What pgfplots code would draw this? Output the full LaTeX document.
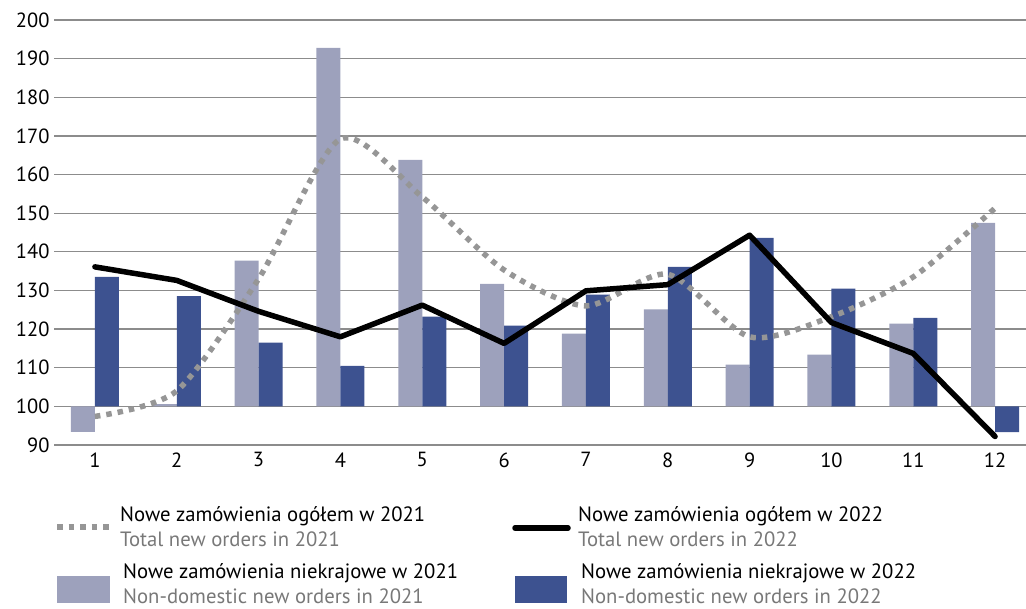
\documentclass[border=0pt]{standalone}
\usepackage{pgfplots}
\pgfplotsset{compat=1.18}
\usepackage{fontspec}
\setmainfont{PT Sans}
\definecolor{bar21}{RGB}{157,161,188}
\definecolor{bar22}{RGB}{61,82,144}
\definecolor{dot21}{RGB}{150,150,150}
\definecolor{gridc}{RGB}{140,140,140}
\definecolor{engl}{RGB}{120,120,120}
\begin{document}
\begin{tikzpicture}[x=1pt,y=1pt]
\useasboundingbox (0,0) rectangle (1026,609);
\begin{axis}[
    at={(54pt,164pt)}, anchor=south west,
    scale only axis, width=982pt, height=425pt,
    xmin=0.5, xmax=12.5,
    ymin=-10, ymax=100,
    y filter/.expression={y-100},
    xtick={1,2,...,12},
    ytick={-10,0,10,20,30,40,50,60,70,80,90,100},
    yticklabels={90,100,110,120,130,140,150,160,170,180,190,200},
    ymajorgrids,
    grid style={gridc, line width=1.3pt},
    axis line style={draw=none},
    major tick length=0pt,
    tick label style={font=\fontsize{20.5}{23}\selectfont},
    /pgf/number format/assume math mode=true,
    xticklabel style={yshift=-4pt},
    yticklabel style={xshift=-1pt},
    clip=false,
]
\addplot[ybar, bar width=24pt, fill=bar21, draw=none, bar shift=-12pt] coordinates {
    (1,93.4) (2,100.6) (3,137.7) (4,192.8) (5,163.8) (6,131.7)
    (7,118.8) (8,125.1) (9,110.8) (10,113.4) (11,121.4) (12,147.5)
};
\addplot[ybar, bar width=24pt, fill=bar22, draw=none, bar shift=12pt] coordinates {
    (1,133.5) (2,128.5) (3,116.5) (4,110.5) (5,123.2) (6,120.9)
    (7,128.9) (8,136.1) (9,143.6) (10,130.5) (11,122.9) (12,93.3)
};
\addplot[dot21, line width=5.5pt, dash pattern=on 5.5pt off 6pt, smooth, tension=0.45] coordinates {
    (1,97.4) (2,104) (3,133) (4,169.2) (5,154.2) (6,135.3)
    (7,126) (8,134.2) (9,118) (10,123.2) (11,133.5) (12,151.3)
};
\addplot[black, line width=5.5pt, line join=round, line cap=round] coordinates {
    (1,136.1) (2,132.6) (3,124.6) (4,118.0) (5,126.2) (6,116.3)
    (7,129.9) (8,131.5) (9,144.3) (10,121.7) (11,113.7) (12,92.2)
};
\end{axis}
% legend
\begin{scope}[font=\fontsize{20.7}{24}\selectfont]
\draw[dot21, line width=5.5pt, dash pattern=on 5.5pt off 6pt] (57,82) -- (110,82);
\node[anchor=base west, inner sep=0] at (120,87) {Nowe zamówienia ogółem w 2021};
\node[anchor=base west, inner sep=0, text=engl] at (120,62) {Total new orders in 2021};
\draw[black, line width=5.5pt, line cap=round] (515,81) -- (568,81);
\node[anchor=base west, inner sep=0] at (578,87) {Nowe zamówienia ogółem w 2022};
\node[anchor=base west, inner sep=0, text=engl] at (578,62) {Total new orders in 2022};
\fill[bar21] (57,6) rectangle (110,33);
\node[anchor=base west, inner sep=0] at (123,30) {Nowe zamówienia niekrajowe w 2021};
\node[anchor=base west, inner sep=0, text=engl] at (123,5) {Non-domestic new orders in 2021};
\fill[bar22] (515,6) rectangle (567,33);
\node[anchor=base west, inner sep=0] at (581,30) {Nowe zamówienia niekrajowe w 2022};
\node[anchor=base west, inner sep=0, text=engl] at (581,5) {Non-domestic new orders in 2022};
\end{scope}
\end{tikzpicture}
\end{document}
